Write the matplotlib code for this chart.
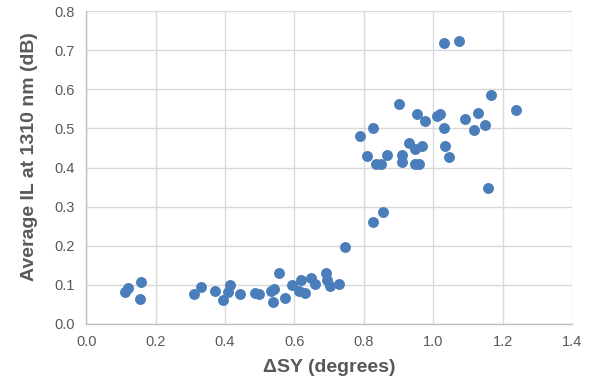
import numpy as np
import matplotlib
matplotlib.use('Agg')
import matplotlib.pyplot as plt

plt.rcParams['font.family'] = ['Liberation Sans', 'DejaVu Sans']

# Angular offset vs. insertion loss measurements
delta_sy = [
    0.111, 0.121, 0.159, 0.156, 0.312, 0.332, 0.372, 0.394, 0.413, 0.408,
    0.442, 0.485, 0.499, 0.533, 0.542, 0.537, 0.554, 0.572, 0.594, 0.618,
    0.613, 0.630, 0.647, 0.660, 0.690, 0.695, 0.703, 0.727, 0.746, 0.827,
    0.856, 1.156, 1.030, 1.074, 1.167, 1.237, 0.900, 0.953, 0.975, 1.009,
    1.020, 1.031, 1.090, 1.128, 1.116, 1.150, 0.788, 0.825, 0.808, 0.867,
    0.836, 0.848, 0.909, 0.911, 0.929, 0.948, 0.967, 0.948, 0.958, 1.034,
    1.044,
]
avg_il = [
    0.081, 0.092, 0.107, 0.064, 0.077, 0.094, 0.083, 0.060, 0.100, 0.081,
    0.077, 0.079, 0.077, 0.083, 0.088, 0.057, 0.130, 0.066, 0.100, 0.113,
    0.085, 0.080, 0.117, 0.103, 0.130, 0.113, 0.097, 0.103, 0.197, 0.260,
    0.285, 0.347, 0.719, 0.723, 0.586, 0.546, 0.563, 0.538, 0.518, 0.533,
    0.538, 0.501, 0.524, 0.539, 0.497, 0.508, 0.480, 0.500, 0.429, 0.431,
    0.408, 0.408, 0.433, 0.414, 0.463, 0.448, 0.454, 0.408, 0.408, 0.454,
    0.427,
]

x_ticks = np.arange(0, 1.41, 0.2)
y_ticks = np.arange(0, 0.81, 0.1)

fig = plt.figure(figsize=(5.9, 3.86), dpi=100)
ax = fig.add_axes([0.146, 0.161, 0.824, 0.810])

ax.scatter(delta_sy, avg_il, s=62, color='#4A7EBB', zorder=3, linewidths=0)

ax.set_xlim(0, 1.4)
ax.set_ylim(0, 0.8)
ax.set_xticks(x_ticks)
ax.set_yticks(y_ticks)
ax.set_xticklabels([f'{v:.1f}' for v in x_ticks])
ax.set_yticklabels([f'{v:.1f}' for v in y_ticks])
ax.grid(True, color='#D9D9D9', linewidth=1.0, zorder=0)
ax.set_axisbelow(True)

for side in ['top', 'right']:
    ax.spines[side].set_visible(False)
for side in ['left', 'bottom']:
    ax.spines[side].set_color('#BFBFBF')
    ax.spines[side].set_linewidth(1.0)

ax.tick_params(length=0, labelsize=10.5, labelcolor='#595959', pad=8)
ax.set_xlabel('ΔSY (degrees)', fontsize=14, fontweight='bold', color='#595959', labelpad=7)
ax.set_ylabel('Average IL at 1310 nm (dB)', fontsize=14, fontweight='bold', color='#595959')
ax.yaxis.set_label_coords(-0.098, 0.535)

fig.savefig('out.png', dpi=100)
